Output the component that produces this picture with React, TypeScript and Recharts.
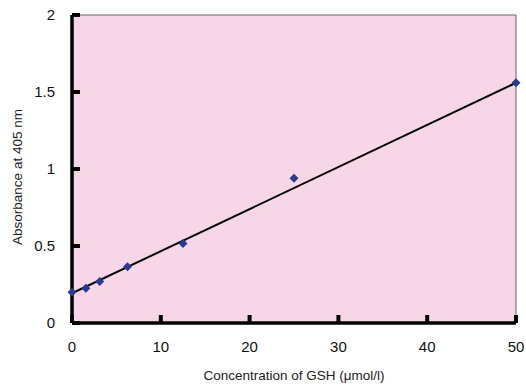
import React from "react";
import { ComposedChart, Scatter, XAxis, YAxis, CartesianGrid, ReferenceLine, Label } from "recharts";

const concentrations = [0, 1.5625, 3.125, 6.25, 12.5, 25, 50];
const absorbances = [0.2, 0.225, 0.27, 0.365, 0.517, 0.94, 1.56];
const fitX = [0, 50];
const fitY = [0.193, 1.56];
const xTicks = [0, 10, 20, 30, 40, 50];
const yTicks = [0, 0.5, 1, 1.5, 2];

const points = concentrations.map((x, i) => ({ x, y: absorbances[i] }));
const fit = fitX.map((x, i) => ({ x, y: fitY[i] }));

const FONT = "'Liberation Sans', Arial, Helvetica, sans-serif";
const X_MARGIN = 18;
const Y_MARGIN = 17;

const XTick = (props: any) => {
  const { x, y, payload } = props;
  const axisY = y - X_MARGIN;
  return (
    <g>
      <rect x={x - 2} y={axisY - 8} width={4} height={8} fill="#000" />
      <text x={x} y={y} dy="0.71em" textAnchor="middle" fontSize={15} fill="#111" fontFamily={FONT}>
        {payload.value}
      </text>
    </g>
  );
};

const YTick = (props: any) => {
  const { x, y, payload } = props;
  const axisX = x + Y_MARGIN;
  return (
    <g>
      <rect x={axisX} y={y - 2} width={8} height={4} fill="#000" />
      <text x={x} y={y} dy="0.355em" textAnchor="end" fontSize={15} fill="#111" fontFamily={FONT}>
        {payload.value}
      </text>
    </g>
  );
};

const Diamond = (props: any) => {
  const { cx, cy } = props;
  const r = 4.5;
  return (
    <polygon
      points={`${cx},${cy - r} ${cx + r},${cy} ${cx},${cy + r} ${cx - r},${cy}`}
      fill="#2b3a8c"
    />
  );
};

const NoShape = () => null;

export default function App() {
  return (
    <div style={{ width: 526, height: 386, background: "#fff" }}>
      <style>{`html,body{margin:0;padding:0;overflow:hidden;}`}</style>
      <ComposedChart
        width={526}
        height={386}
        margin={{ top: 15, right: 10, bottom: 0, left: 0 }}
      >
        <CartesianGrid
          horizontal={false}
          vertical={false}
          fill="#f7d6e7"
          fillOpacity={1}
        />
        <ReferenceLine
          segment={[{ x: 0, y: 2 }, { x: 50, y: 2 }]}
          stroke="#666"
          strokeWidth={1}
        />
        <ReferenceLine
          segment={[{ x: 50, y: 0 }, { x: 50, y: 2 }]}
          stroke="#666"
          strokeWidth={1}
        />
        <XAxis
          type="number"
          dataKey="x"
          domain={[0, 50]}
          ticks={xTicks}
          height={63}
          tickSize={0}
          tickMargin={X_MARGIN}
          tickLine={false}
          axisLine={{ stroke: "#000", strokeWidth: 3.5 }}
          tick={<XTick />}
          interval={0}
        >
          <Label
            value="Concentration of GSH (μmol/l)"
            position="insideBottom"
            offset={6}
            style={{ fontSize: 13.5, fill: "#222", fontFamily: FONT }}
          />
        </XAxis>
        <YAxis
          type="number"
          dataKey="y"
          domain={[0, 2]}
          ticks={yTicks}
          width={72}
          tickSize={0}
          tickMargin={Y_MARGIN}
          tickLine={false}
          axisLine={{ stroke: "#000", strokeWidth: 3.5 }}
          tick={<YTick />}
          interval={0}
        >
          <Label
            content={(p: any) => {
              const vb = p.viewBox;
              const cx = vb.x + 17;
              const cy = vb.y + vb.height / 2 + 8;
              return (
                <text
                  x={cx}
                  y={cy}
                  transform={`rotate(-90 ${cx} ${cy})`}
                  textAnchor="middle"
                  dominantBaseline="central"
                  fontSize={13.5}
                  fill="#222"
                  fontFamily={FONT}
                >
                  Absorbance at 405 nm
                </text>
              );
            }}
          />
        </YAxis>
        <Scatter
          data={fit}
          line={{ stroke: "#000", strokeWidth: 2 }}
          shape={<NoShape />}
          isAnimationActive={false}
        />
        <Scatter data={points} shape={<Diamond />} isAnimationActive={false} />
      </ComposedChart>
    </div>
  );
}
